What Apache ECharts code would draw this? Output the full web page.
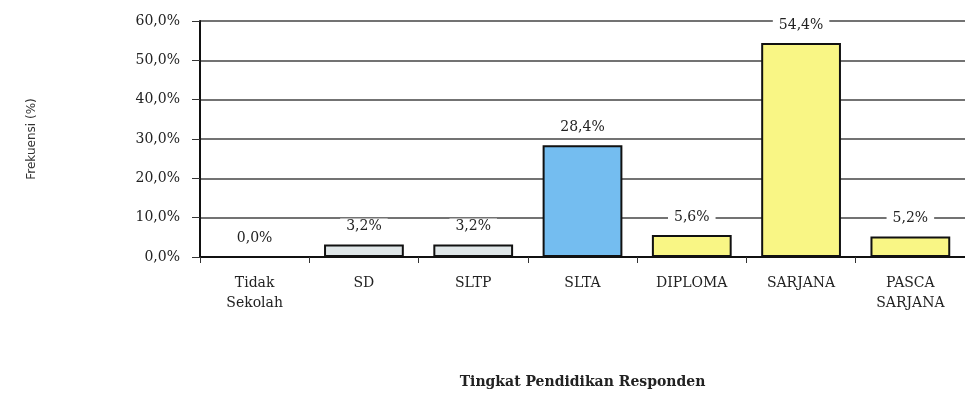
<!DOCTYPE html>
<html>
<head>
<meta charset="utf-8">
<script src="https://cdn.jsdelivr.net/npm/echarts@6/dist/echarts.min.js"></script>
<style>
  html, body { margin: 0; padding: 0; background: #fff; }
  #chart { width: 965px; height: 400px; }
</style>
</head>
<body>
<div id="chart"></div>
<script>
// kategori tingkat pendidikan
var categories = ['Tidak\nSekolah', 'SD', 'SLTP', 'SLTA', 'DIPLOMA', 'SARJANA', 'PASCA\nSARJANA'];
// frekuensi (%)
var values = [0.0, 3.2, 3.2, 28.4, 5.6, 54.4, 5.2];
var barColors = ['#dfe6e8', '#dfe6e8', '#dfe6e8', '#74bdf0', '#f9f685', '#f9f685', '#f9f685'];

var serif = '"DejaVu Serif", serif';
var fmt = function (v) { return v.toFixed(1).replace('.', ',') + '%'; };

var myChart = echarts.init(document.getElementById('chart'));
var option = {
    animation: false,
    grid: { left: 200, right: -3, top: 21, bottom: 143 },
    xAxis: {
        type: 'category',
        data: categories,
        name: 'Tingkat Pendidikan Responden',
        nameLocation: 'middle',
        nameGap: 118,
        nameTextStyle: { fontFamily: serif, fontWeight: 'bold', fontSize: 14, color: '#222' },
        axisLine: { lineStyle: { color: '#111', width: 2 } },
        axisTick: { show: true, length: 6, lineStyle: { color: '#333' } },
        axisLabel: { fontFamily: serif, fontSize: 14, color: '#222', lineHeight: 20, margin: 16 }
    },
    yAxis: {
        type: 'value',
        min: 0,
        max: 60,
        interval: 10,
        name: 'Frekuensi (%)',
        nameLocation: 'middle',
        nameGap: 162,
        nameRotate: 90,
        nameTextStyle: { fontFamily: '"DejaVu Sans", sans-serif', fontSize: 12, color: '#333' },
        axisLine: { show: true, lineStyle: { color: '#111', width: 2 } },
        axisTick: { show: true, length: 8, lineStyle: { color: '#333' } },
        axisLabel: { fontFamily: serif, fontSize: 14, color: '#222', margin: 20, formatter: fmt },
        splitLine: { lineStyle: { color: '#444', width: 1.5 } }
    },
    series: [{
        type: 'bar',
        data: values,
        barWidth: '73%',
        itemStyle: {
            color: function (p) { return barColors[p.dataIndex]; },
            borderColor: '#111',
            borderWidth: 2
        },
        label: {
            show: true,
            position: 'top',
            distance: 10,
            fontFamily: serif,
            fontSize: 14,
            color: '#222',
            backgroundColor: '#fff',
            padding: [1, 6],
            formatter: function (p) { return fmt(p.value); }
        }
    }]
};
myChart.setOption(option);
window.addEventListener('resize', function () { myChart.resize(); });
</script>
</body>
</html>
